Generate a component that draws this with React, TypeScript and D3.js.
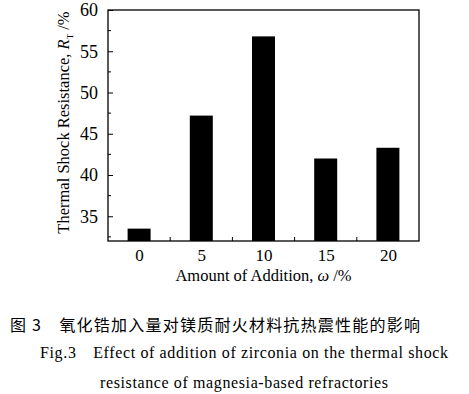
import React, { useEffect, useRef } from 'react';
import * as d3 from 'd3';

const additions = [0, 5, 10, 15, 20];
const resistance = [33.5, 47.2, 56.8, 42.0, 43.3];
const yTicks = [35, 40, 45, 50, 55, 60];

const App: React.FC = () => {
  const ref = useRef<SVGSVGElement>(null);

  useEffect(() => {
    const svg = d3.select(ref.current);
    svg.selectAll('*').remove();
    const left = 108, right = 419, top = 10, bottom = 241;
    const font = '"Liberation Serif", "Times New Roman", serif';

    const x = d3.scaleLinear().domain([-2.5, 22.5]).range([left, right]);
    const y = d3.scaleLinear().domain([32, 60]).range([bottom, top]);
    const barW = 23;

    svg.append('rect').attr('width', 469).attr('height', 394).attr('fill', '#fff');

    // bars
    svg.selectAll('.bar')
      .data(additions)
      .enter().append('rect')
      .attr('x', (d) => x(d) - barW / 2)
      .attr('y', (d, i) => y(resistance[i]))
      .attr('width', barW)
      .attr('height', (d, i) => bottom - y(resistance[i]))
      .attr('fill', '#000');

    // frame
    svg.append('rect')
      .attr('x', left).attr('y', top)
      .attr('width', right - left).attr('height', bottom - top)
      .attr('fill', 'none').attr('stroke', '#000').attr('stroke-width', 1.3);

    // y axis ticks inward
    const yAxis = svg.append('g').attr('transform', `translate(${left},0)`)
      .call(d3.axisLeft(y).tickValues(yTicks).tickSizeInner(-5).tickSizeOuter(0).tickPadding(10));
    yAxis.select('.domain').remove();
    yAxis.selectAll('text').attr('font-family', font).attr('font-size', 18).attr('fill', '#000');
    svg.append('g').selectAll('line')
      .data(d3.range(32.5, 60, 5))
      .enter().append('line')
      .attr('x1', left).attr('x2', left + 3)
      .attr('y1', (d) => y(d)).attr('y2', (d) => y(d))
      .attr('stroke', '#000');

    // x axis
    const xAxis = svg.append('g').attr('transform', `translate(0,${bottom})`)
      .call(d3.axisBottom(x).tickValues(additions).tickSize(0).tickPadding(8).tickFormat(d3.format('d')));
    xAxis.select('.domain').remove();
    xAxis.selectAll('text').attr('font-family', font).attr('font-size', 17).attr('fill', '#000');
    svg.append('g').selectAll('line')
      .data([2.5, 7.5, 12.5, 17.5])
      .enter().append('line')
      .attr('x1', (d) => x(d)).attr('x2', (d) => x(d))
      .attr('y1', bottom).attr('y2', bottom - 4)
      .attr('stroke', '#000');

    // axis titles
    const xt = svg.append('text')
      .attr('x', (left + right) / 2).attr('y', 281)
      .attr('text-anchor', 'middle').attr('font-family', font).attr('font-size', 16.5);
    xt.append('tspan').text('Amount of Addition, ');
    xt.append('tspan').attr('font-style', 'italic').text('ω');
    xt.append('tspan').text(' /%');

    const yt = svg.append('text')
      .attr('transform', `translate(69,${(top + bottom) / 2 - 3}) rotate(-90)`)
      .attr('text-anchor', 'middle').attr('font-family', font).attr('font-size', 16.5);
    yt.append('tspan').text('Thermal Shock Resistance, ');
    yt.append('tspan').attr('font-style', 'italic').text('R');
    yt.append('tspan').attr('font-size', 9).attr('dy', 4).text('T');
    yt.append('tspan').attr('dy', -4).text(' /%');

    // caption
    svg.append('text')
      .attr('x', 10).attr('y', 331)
      .attr('font-family', '"Noto Sans CJK SC", sans-serif').attr('font-size', 16)
      .attr('textLength', 410)
      .text('图 3\u3000氧化锆加入量对镁质耐火材料抗热震性能的影响');
    svg.append('text')
      .attr('x', 40).attr('y', 358)
      .attr('font-family', font).attr('font-size', 16)
      .attr('textLength', 408)
      .text('Fig.3\u2003Effect of addition of zirconia on the thermal shock');
    svg.append('text')
      .attr('x', 100).attr('y', 388)
      .attr('font-family', font).attr('font-size', 16)
      .attr('textLength', 288)
      .text('resistance of magnesia-based refractories');
  }, []);

  return <svg ref={ref} width={469} height={394} style={{ position: 'absolute', left: 0, top: 0 }} />;
};

export default App;
